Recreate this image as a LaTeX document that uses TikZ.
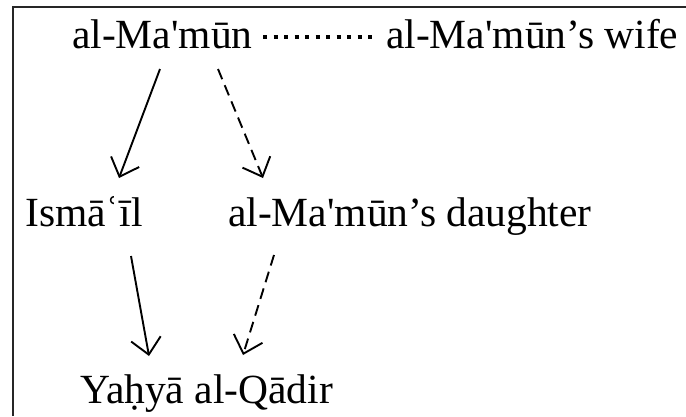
\documentclass[tikz,border=0pt]{standalone}
\usepackage{fontspec}
\setmainfont{Liberation Serif}
\usetikzlibrary{arrows.meta}
\begin{document}
\begin{tikzpicture}[x=1pt,y=-1pt,
  person/.style={inner sep=0pt,anchor=base west,font=\fontsize{41.5}{44}\selectfont},
  link/.style={line width=1.9pt,draw=black,-{Straight Barb[length=16pt,width=30pt,line width=1.9pt]}},
  dlink/.style={link,dash pattern=on 11pt off 6.5pt},
  marriage/.style={line width=4.5pt,draw=black,dash pattern=on 4.2pt off 6.3pt},
  frameline/.style={line width=1.6pt,draw=black!85}]
\useasboundingbox (0,0) rectangle (686,416);
\draw[frameline] (13,416) -- (13,7) -- (686,7);
\node[person] (mamun) at (72,48) {al-Ma\textquotesingle mūn};
\node[person] (wife) at (386,48) {al-Ma\textquotesingle mūn’s wife};
\node[person] (ismail) at (25,226) {Ismāʿīl};
\node[person] (daughter) at (228,226) {al-Ma\textquotesingle mūn’s daughter};
\node[person] (yahya) at (80,403) {Yaḥyā al-Qādir};
\draw[marriage] ([shift={(191,-11)}]mamun.base west) -- ([shift={(-14,-11)}]wife.base west);
\draw[link] ([shift={(88,21)}]mamun.base west) -- ([shift={(94,-48)}]ismail.base west);
\draw[dlink] ([shift={(146,21)}]mamun.base west) -- ([shift={(35,-48)}]daughter.base west);
\draw[link] ([shift={(106,30)}]ismail.base west) -- ([shift={(69,-47)}]yahya.base west);
\draw[dlink] ([shift={(46,29)}]daughter.base west) -- ([shift={(163,-48)}]yahya.base west);
\end{tikzpicture}
\end{document}
